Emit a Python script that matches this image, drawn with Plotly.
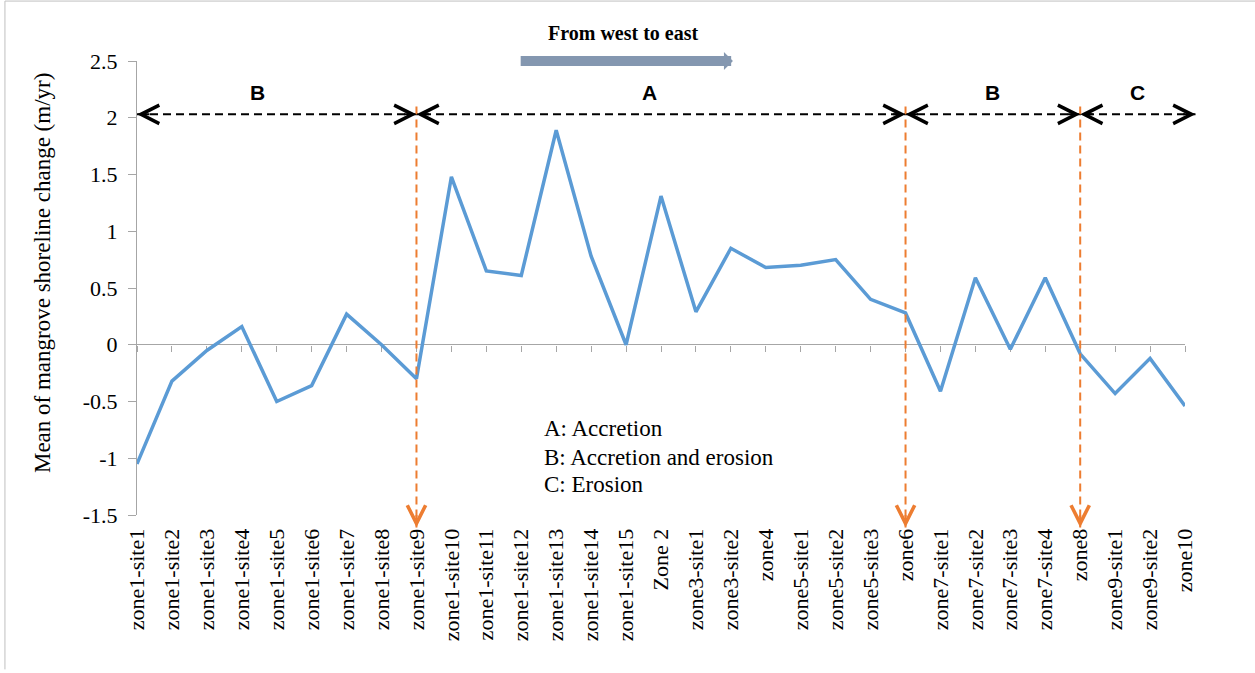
import plotly.graph_objects as go

categories = ["zone1-site1", "zone1-site2", "zone1-site3", "zone1-site4", "zone1-site5",
              "zone1-site6", "zone1-site7", "zone1-site8", "zone1-site9", "zone1-site10",
              "zone1-site11", "zone1-site12", "zone1-site13", "zone1-site14", "zone1-site15",
              "Zone 2", "zone3-site1", "zone3-site2", "zone4", "zone5-site1", "zone5-site2",
              "zone5-site3", "zone6", "zone7-site1", "zone7-site2", "zone7-site3",
              "zone7-site4", "zone8", "zone9-site1", "zone9-site2", "zone10"]
values = [-1.05, -0.32, -0.05, 0.16, -0.50, -0.36, 0.27, 0.00, -0.30, 1.48,
          0.65, 0.61, 1.89, 0.78, 0.00, 1.31, 0.29, 0.85, 0.68, 0.70, 0.75,
          0.40, 0.28, -0.41, 0.59, -0.04, 0.59, -0.08, -0.43, -0.12, -0.54]

y_tick_vals = [-1.5, -1, -0.5, 0, 0.5, 1, 1.5, 2, 2.5]
y_tick_text = ["-1.5", "-1", "-0.5", "0", "0.5", "1", "1.5", "2", "2.5"]

# region annotation (category index units)
region_bounds = [0, 8, 22, 27, 30.3]
region_labels = ["B", "A", "B", "C"]
region_label_pos = [3.46, 14.66, 24.5, 28.64]
region_arrow_y = 2.03
region_label_y = 2.22
boundary_idx = [8, 22, 27]
boundary_top = 2.1
boundary_bottom = -1.61

legend_lines = ["A: Accretion", "B: Accretion and erosion", "C: Erosion"]
legend_y = [-0.74, -0.99, -1.23]
legend_x = 11.6

direction_text = "From west to east"
direction_from = 10.94
direction_to = 17.06
direction_y = 2.5
direction_text_pos = (13.9, 2.75)

Y_RANGE = [-1.5, 2.5]
X_RANGE = [0, len(categories) - 1]

AXIS_GRAY = "#A6A6A6"
BLUE = "#5B9BD5"
ORANGE = "#ED7D31"
SERIF = "Liberation Serif, Times New Roman, serif"
SANS = "Liberation Sans, Arial, sans-serif"


def paper_x(idx):
    return (idx - X_RANGE[0]) / (X_RANGE[1] - X_RANGE[0])


def paper_y(v):
    return (v - Y_RANGE[0]) / (Y_RANGE[1] - Y_RANGE[0])


fig = go.Figure()
fig.add_trace(go.Scatter(x=categories, y=values, mode="lines",
                         line=dict(color=BLUE, width=3.5),
                         hoverinfo="skip", showlegend=False))
fig.add_trace(go.Scatter(x=categories, y=values, mode="lines", xaxis="x2",
                         line=dict(color="rgba(0,0,0,0)", width=0),
                         hoverinfo="skip", showlegend=False))

shapes = []
annotations = []

# chart-area border (left and top edges visible)
shapes.append(dict(type="line", xref="paper", yref="paper",
                   x0=-0.126, x1=-0.126, y0=-0.34, y1=1.132,
                   line=dict(color="#BFBFBF", width=1), layer="below"))
shapes.append(dict(type="line", xref="paper", yref="paper",
                   x0=-0.126, x1=1.07, y0=1.132, y1=1.132,
                   line=dict(color="#BFBFBF", width=1), layer="below"))

# dashed black region line
shapes.append(dict(type="line", xref="paper", yref="paper",
                   x0=paper_x(region_bounds[0]), x1=paper_x(region_bounds[-1]),
                   y0=paper_y(region_arrow_y), y1=paper_y(region_arrow_y),
                   line=dict(color="black", width=2, dash="8px,5px")))

chev = dict(showarrow=True, text="", arrowhead=5, arrowsize=1.8, arrowwidth=2,
            font=dict(size=1), xref="paper", yref="paper")

# chevrons at region ends
for i in range(len(region_labels)):
    left, right = region_bounds[i], region_bounds[i + 1]
    for tip, ax in ((left, 14), (right, -14)):
        annotations.append(dict(chev, x=paper_x(tip), y=paper_y(region_arrow_y),
                                ax=ax, ay=0, arrowcolor="black"))
    annotations.append(dict(x=paper_x(region_label_pos[i]), y=paper_y(region_label_y),
                            xref="paper", yref="paper", xanchor="center", yanchor="middle",
                            text="<b>%s</b>" % region_labels[i], showarrow=False,
                            font=dict(family=SANS, size=21, color="black")))

# orange boundaries
for idx in boundary_idx:
    shapes.append(dict(type="line", xref="paper", yref="paper",
                       x0=paper_x(idx), x1=paper_x(idx),
                       y0=paper_y(boundary_top), y1=paper_y(boundary_bottom),
                       line=dict(color=ORANGE, width=2, dash="8px,5px")))
    annotations.append(dict(chev, x=paper_x(idx), y=paper_y(boundary_bottom),
                            ax=0, ay=-14, arrowcolor=ORANGE))

# direction arrow and text
annotations.append(dict(x=direction_to, y=direction_y, xref="x", yref="y",
                        ax=direction_from, ay=direction_y, axref="x", ayref="y",
                        text="", showarrow=True, arrowhead=1, arrowsize=0.3,
                        arrowwidth=10, arrowcolor="#8497B0", font=dict(size=1)))
annotations.append(dict(x=paper_x(direction_text_pos[0]), y=paper_y(direction_text_pos[1]),
                        xref="paper", yref="paper", xanchor="center", yanchor="middle",
                        text="<b>%s</b>" % direction_text, showarrow=False,
                        font=dict(family=SERIF, size=20, color="black")))

# legend text
for txt, yy in zip(legend_lines, legend_y):
    annotations.append(dict(x=paper_x(legend_x), y=paper_y(yy), xref="paper", yref="paper",
                            text=txt, showarrow=False, xanchor="left", yanchor="middle",
                            font=dict(family=SERIF, size=23, color="black")))

# y-axis title
annotations.append(dict(x=-0.0906, y=0.533, xref="paper", yref="paper",
                        xanchor="center", yanchor="middle",
                        text="Mean of mangrove shoreline change (m/yr)",
                        textangle=-90, showarrow=False,
                        font=dict(family=SERIF, size=23, color="black")))

fig.update_layout(
    width=1255, height=673, autosize=False,
    margin=dict(l=137, r=70, t=61, b=158),
    paper_bgcolor="white", plot_bgcolor="white",
    showlegend=False,
    xaxis=dict(type="category", range=X_RANGE, showline=False, showgrid=False,
               zeroline=False, ticks="outside", ticklen=4,
               tickcolor="rgba(0,0,0,0)", tickangle=-90,
               tickfont=dict(family=SERIF, size=22, color="black")),
    xaxis2=dict(type="category", range=X_RANGE, overlaying="x", anchor="free",
                position=paper_y(0), showline=False, showgrid=False, zeroline=False,
                showticklabels=False, ticks="outside", ticklen=6,
                tickcolor=AXIS_GRAY, layer="below traces"),
    yaxis=dict(range=Y_RANGE, tickmode="array", tickvals=y_tick_vals,
               ticktext=y_tick_text, showline=True, linecolor=AXIS_GRAY,
               linewidth=1, ticks="outside", ticklen=8, tickcolor=AXIS_GRAY,
               showgrid=False, zeroline=True, zerolinecolor=AXIS_GRAY,
               zerolinewidth=1, ticklabelstandoff=6, layer="below traces",
               tickfont=dict(family=SERIF, size=22, color="black")),
    shapes=shapes,
    annotations=annotations,
)

fig.write_html("out.html", config={"displayModeBar": False},
               post_script="document.body.style.margin='0px';"
                           "document.body.style.overflow='hidden';")
